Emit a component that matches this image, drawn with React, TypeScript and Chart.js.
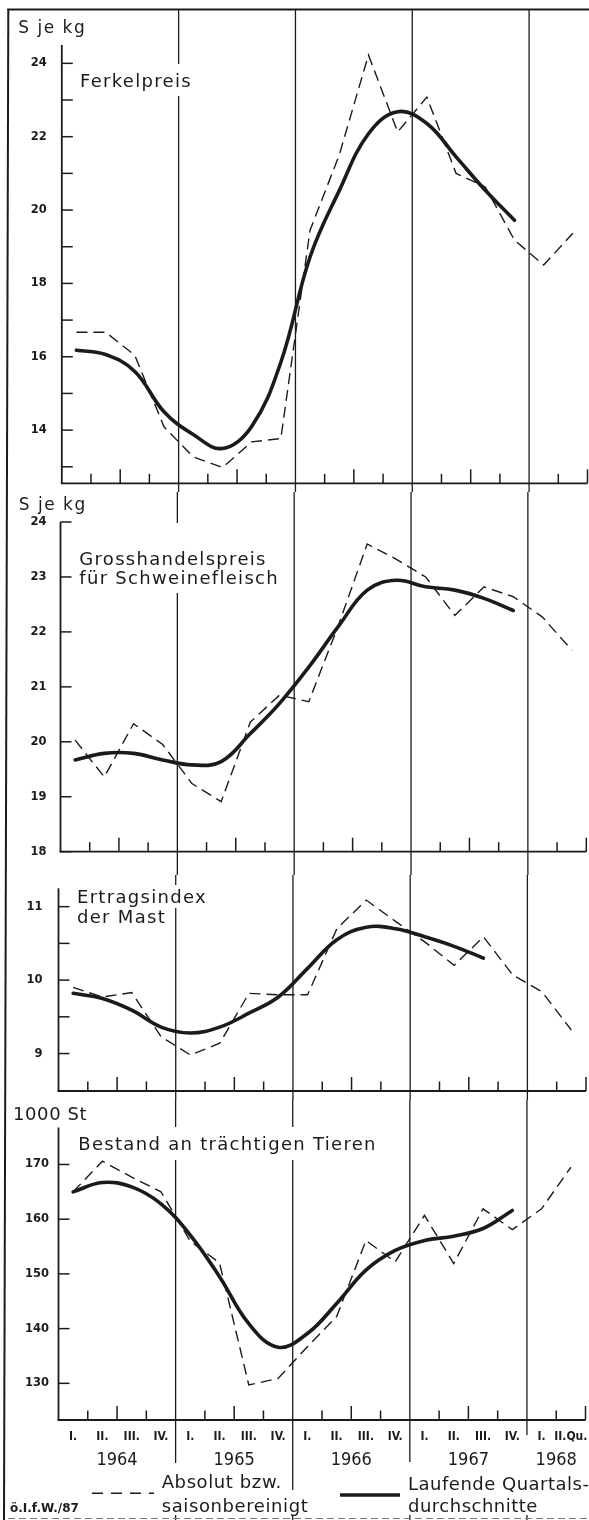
import React, { useEffect, useRef } from "react";
import { Chart, registerables } from "chart.js";

Chart.register(...registerables);

const INK = "#1b1b1b";
const SANS = '"DejaVu Sans", "Noto Sans", sans-serif';
const COND = '"DejaVu Sans Condensed", "Liberation Sans Narrow", "DejaVu Sans", sans-serif';

// ---- categories ----
const quarterLabels = [
  "I.", "II.", "III.", "IV.",
  "I.", "II.", "III.", "IV.",
  "I.", "II.", "III.", "IV.",
  "I.", "II.", "III.", "IV.",
  "I.", "II.Qu.",
];
const yearLabels = ["1964", "1965", "1966", "1967", "1968"];
const quartersPerYear = [4, 4, 4, 4, 2];

// ---- series (absolute / seasonally adjusted, and running quarterly averages) ----
const ferkelAbsolut = [16.67, 16.67, 16.04, 14.09, 13.27, 12.98, 13.68, 13.77, 19.45, 21.5, 24.23, 22.13, 23.08, 21.0, 20.63, 19.18, 18.5, 19.37];
const ferkelDurchschnitt = [16.18, 16.06, 15.6, 14.5, 13.88, 13.5, 14.1, 15.85, 18.72, 20.53, 22.08, 22.68, 22.36, 21.45, 20.54, 19.72, null, null];

const grossAbsolut = [20.03, 19.36, 20.33, 19.95, 19.24, 18.91, 20.36, 20.85, 20.73, 22.1, 23.6, 23.32, 23.0, 22.3, 22.82, 22.64, 22.27, 21.67];
const grossDurchschnitt = [19.67, 19.79, 19.79, 19.67, 19.58, 19.64, 20.15, 20.7, 21.36, 22.09, 22.76, 22.94, 22.82, 22.76, 22.61, 22.39, null, null];

const ertragAbsolut = [9.9, 9.77, 9.83, 9.23, 8.98, 9.14, 9.82, 9.8, 9.8, 10.7, 11.09, 10.8, 10.52, 10.2, 10.59, 10.07, 9.84, 9.32];
const ertragDurchschnitt = [9.82, 9.75, 9.59, 9.36, 9.28, 9.36, 9.55, 9.77, 10.16, 10.55, 10.72, 10.7, 10.59, 10.46, 10.3, null, null, null];

const bestandAbsolut = [165.0, 170.6, 167.7, 165.0, 156.0, 152.0, 129.7, 130.9, 136.7, 142.2, 156.1, 152.2, 160.7, 151.9, 161.9, 158.1, 161.9, 169.5];
const bestandDurchschnitt = [165.0, 166.7, 165.9, 162.8, 157.1, 149.5, 140.9, 136.6, 139.1, 144.6, 150.7, 154.3, 156.1, 156.9, 158.3, 161.6, null, null];

// ---- tick values and labelled ticks ----
const ferkelTicks = [13, 14, 15, 16, 17, 18, 19, 20, 21, 22, 23, 24];
const ferkelTickLabels = [14, 16, 18, 20, 22, 24];
const grossTicks = [18, 19, 20, 21, 22, 23, 24];
const grossTickLabels = [18, 19, 20, 21, 22, 23, 24];
const ertragTicks = [9, 9.5, 10, 10.5, 11];
const ertragTickLabels = [9, 10, 11];
const bestandTicks = [130, 140, 150, 160, 170];
const bestandTickLabels = [130, 140, 150, 160, 170];

// ---- text ----
const legendDashed = ["Absolut bzw.", "saisonbereinigt"];
const legendSolid = ["Laufende Quartals-", "durchschnitte"];
const sourceNote = "ö.I.f.W./87";

// derived quarter positions
const yearStarts: number[] = [];
quartersPerYear.reduce((acc, n) => { yearStarts.push(acc); return acc + n; }, 0);
const totalQuarters = quarterLabels.length;
const yearBounds = yearStarts.slice(1);
const yearCenters = yearStarts.map((s, i) => s + quartersPerYear[i] / 2);

type Panel = {
  key: string; top: number; height: number;
  padTop: number; padBottom: number; left: number; right: number;
  min: number; max: number;
  abs: (number | null)[]; avg: (number | null)[];
  ticks: number[]; tickLabels: number[]; labelPad: number;
  unit: { text: string; x: number; y: number; size: number; spacing: number };
  title: { lines: string[]; x: number; y: number; lh: number };
  gaps: number[][];
  lineTop: number; lineEnds: number[];
  bottomAxes: boolean;
};

const panels: Panel[] = [
  {
    key: "p1", top: 0, height: 492, padTop: 45, padBottom: 8.7, left: 61.8, right: 587.5,
    min: 12.55, max: 24.5, abs: ferkelAbsolut, avg: ferkelDurchschnitt,
    ticks: ferkelTicks, tickLabels: ferkelTickLabels, labelPad: 15,
    unit: { text: "S je kg", x: 18.3, y: 33.3, size: 17, spacing: 1.5 },
    title: { lines: ["Ferkelpreis"], x: 80, y: 87.3, lh: 19.5 },
    gaps: [[76, 64, 197, 96]],
    lineTop: 9, lineEnds: [492, 492, 492, 492], bottomAxes: false,
  },
  {
    key: "p2", top: 492, height: 383, padTop: 30, padBottom: 23.3, left: 60.5, right: 586.3,
    min: 18, max: 24, abs: grossAbsolut, avg: grossDurchschnitt,
    ticks: grossTicks, tickLabels: grossTickLabels, labelPad: 14,
    unit: { text: "S je kg", x: 18.8, y: 510, size: 17, spacing: 1.5 },
    title: { lines: ["Grosshandelspreis", "für Schweinefleisch"], x: 79.3, y: 565, lh: 19.3 },
    gaps: [[76, 523, 282, 593]],
    lineTop: 492, lineEnds: [875, 875, 875, 875], bottomAxes: false,
  },
  {
    key: "p3", top: 875, height: 225, padTop: 13.3, padBottom: 9, left: 58.5, right: 586,
    min: 8.49, max: 11.25, abs: ertragAbsolut, avg: ertragDurchschnitt,
    ticks: ertragTicks, tickLabels: ertragTickLabels, labelPad: 16,
    unit: { text: "", x: 0, y: 0, size: 17, spacing: 0 },
    title: { lines: ["Ertragsindex", "der Mast"], x: 77, y: 903.3, lh: 20 },
    gaps: [[74, 885, 210, 908]],
    lineTop: 875, lineEnds: [1100, 1100, 1100, 1100], bottomAxes: false,
  },
  {
    key: "p4", top: 1100, height: 420, padTop: 27.5, padBottom: 48, left: 58.5, right: 585.5,
    min: 123.3, max: 176.76, abs: bestandAbsolut, avg: bestandDurchschnitt,
    ticks: bestandTicks, tickLabels: bestandTickLabels, labelPad: 9.5,
    unit: { text: "1000 St", x: 13, y: 1120, size: 18, spacing: 0.6 },
    title: { lines: ["Bestand an trächtigen Tieren"], x: 78.3, y: 1150, lh: 20 },
    gaps: [[74, 1127, 378, 1160]],
    lineTop: 1100, lineEnds: [1463, 1490, 1462, 1435], bottomAxes: true,
  },
];

function seg(ctx: CanvasRenderingContext2D, x1: number, y1: number, x2: number, y2: number) {
  ctx.beginPath();
  ctx.moveTo(x1, y1);
  ctx.lineTo(x2, y2);
  ctx.stroke();
}

function txt(ctx: any, s: string, x: number, y: number, font: string, spacing: number) {
  ctx.font = font;
  ctx.letterSpacing = spacing + "px";
  ctx.textAlign = "left";
  ctx.textBaseline = "alphabetic";
  ctx.fillText(s, x, y);
  ctx.letterSpacing = "0px";
}

function zeroScalePadding(s: any) {
  s.paddingTop = 0;
  s.paddingBottom = 0;
  s.paddingLeft = 0;
  s.paddingRight = 0;
}

function decorPlugin(p: Panel) {
  return {
    id: "decor_" + p.key,
    beforeDatasetsDraw(chart: any) {
      const ctx: CanvasRenderingContext2D = chart.ctx;
      const xs = chart.scales.x;
      const ys = chart.scales.y;
      const a = chart.chartArea;
      const off = p.top;
      ctx.save();
      ctx.strokeStyle = INK;
      ctx.fillStyle = INK;
      ctx.lineCap = "butt";

      // outer frame (left edge, top edge)
      const fx = (gy: number) => 8.3 - (4.3 * (gy - 9)) / 1511;
      const g0 = Math.max(9, off);
      const g1 = off + p.height;
      ctx.lineWidth = 2;
      seg(ctx, fx(g0), g0 - off, fx(g1), g1 - off);
      if (p.key === "p1") seg(ctx, fx(9) - 1, 9.5, 589, 9.5);

      // year divider lines
      ctx.lineWidth = 1.3;
      yearBounds.forEach((b, i) => {
        const x = xs.getPixelForValue(b);
        seg(ctx, x, p.lineTop - off, x, p.lineEnds[i] - off);
        if (p.bottomAxes) seg(ctx, x, 1515 - off, x, 1520 - off);
      });

      // white gaps behind titles
      ctx.fillStyle = "#fff";
      p.gaps.forEach((g) => ctx.fillRect(g[0], g[1] - off, g[2] - g[0], g[3] - g[1]));
      ctx.fillStyle = INK;

      // unit & title
      if (p.unit.text) txt(ctx, p.unit.text, p.unit.x, p.unit.y - off, `${p.unit.size}px ${SANS}`, p.unit.spacing);
      p.title.lines.forEach((line, i) =>
        txt(ctx, line, p.title.x, p.title.y + i * p.title.lh - off, `18px ${SANS}`, 1.3)
      );

      // axis lines
      ctx.lineWidth = 1.8;
      seg(ctx, a.left, a.top, a.left, a.bottom);
      seg(ctx, a.left - 1, a.bottom, a.right, a.bottom);

      // inward y ticks
      ctx.lineWidth = 1.5;
      p.ticks.forEach((v) => {
        const y = ys.getPixelForValue(v);
        seg(ctx, a.left, y, a.left + 11, y);
      });

      // upward quarter ticks
      for (let b = 1; b <= totalQuarters; b++) {
        if (yearBounds.includes(b)) continue;
        const x = xs.getPixelForValue(b);
        const h = b % 4 === 2 || b === totalQuarters ? 14 : 9.5;
        seg(ctx, x, a.bottom, x, a.bottom - h);
      }

      if (p.bottomAxes) {
        // legend: dashed sample
        ctx.lineWidth = 1.5;
        ctx.setLineDash([11, 8]);
        seg(ctx, 92, 1493.3 - off, 154, 1493.3 - off);
        ctx.setLineDash([]);
        legendDashed.forEach((s, i) => txt(ctx, s, 161.7, 1488.3 + i * 23.2 - off, `18px ${SANS}`, 0.6));
        // legend: solid sample
        ctx.lineWidth = 3.6;
        seg(ctx, 340, 1495 - off, 400, 1495 - off);
        legendSolid.forEach((s, i) => txt(ctx, s, 408, 1489.5 + i * 22 - off, `18px ${SANS}`, 0.5));
        // source note
        txt(ctx, sourceNote, 10, 1511.5 - off, `bold 12px ${SANS}`, 0);
        // bottom edge
        ctx.strokeStyle = "#777";
        ctx.lineWidth = 1;
        ctx.setLineDash([7, 4]);
        seg(ctx, 8, 1518.5 - off, 589, 1518.5 - off);
        ctx.setLineDash([]);
      }
      ctx.restore();
    },
  };
}

function buildConfig(p: Panel): any {
  const absData = p.abs.map((v, i) => ({ x: i + 0.5, y: v }));
  const avgData = p.avg.map((v, i) => ({ x: i + 0.5, y: v }));
  const scales: any = {
    x: {
      type: "linear",
      min: 0,
      max: totalQuarters,
      position: "bottom",
      weight: 1,
      display: p.bottomAxes,
      grid: { display: false, drawTicks: false },
      border: { display: false },
      afterBuildTicks: (s: any) => { s.ticks = quarterLabels.map((_, i) => ({ value: i + 0.5 })); },
      afterFit: (s: any) => { s.height = p.bottomAxes ? 28 : 0; zeroScalePadding(s); },
      ticks: {
        autoSkip: false, maxRotation: 0, minRotation: 0, padding: 10.5, color: INK,
        font: { family: COND, size: 12, weight: "bold", lineHeight: 1 },
        callback: (_v: any, i: number) => quarterLabels[i],
      },
    },
    y: {
      type: "linear",
      min: p.min,
      max: p.max,
      position: "left",
      grid: { display: false, drawTicks: false },
      border: { display: false },
      afterBuildTicks: (s: any) => { s.ticks = p.ticks.map((v) => ({ value: v })); },
      afterFit: (s: any) => { s.width = p.left; zeroScalePadding(s); },
      ticks: {
        autoSkip: false, padding: p.labelPad, color: INK,
        font: { family: SANS, size: 11.5, weight: "bold", lineHeight: 1 },
        callback: (v: any) => (p.tickLabels.includes(v) ? String(v) : ""),
      },
    },
  };
  if (p.bottomAxes) {
    scales.x2 = {
      type: "linear",
      min: 0,
      max: totalQuarters,
      position: "bottom",
      weight: 2,
      grid: { display: false, drawTicks: false },
      border: { display: false },
      afterBuildTicks: (s: any) => { s.ticks = yearCenters.map((v) => ({ value: v })); },
      afterFit: (s: any) => { s.height = 24; zeroScalePadding(s); },
      ticks: {
        autoSkip: false, maxRotation: 0, minRotation: 0, padding: 3, color: INK,
        font: { family: COND, size: 18, lineHeight: 1 },
        callback: (_v: any, i: number) => yearLabels[i],
      },
    };
  }
  return {
    type: "line",
    data: {
      datasets: [
        {
          label: "Absolut bzw. saisonbereinigt",
          data: absData,
          borderColor: INK,
          borderWidth: 1.4,
          borderDash: [11, 6],
          pointRadius: 0,
          tension: 0,
          fill: false,
        },
        {
          label: "Laufende Quartalsdurchschnitte",
          data: avgData,
          borderColor: INK,
          borderWidth: 3.6,
          pointRadius: 0,
          tension: 0.4,
          fill: false,
          borderCapStyle: "round",
          borderJoinStyle: "round",
        },
      ],
    },
    options: {
      animation: false,
      responsive: false,
      maintainAspectRatio: false,
      devicePixelRatio: 1,
      events: [],
      layout: {
        autoPadding: false,
        padding: { left: 0, right: 589 - p.right, top: p.padTop, bottom: p.padBottom },
      },
      plugins: { legend: { display: false }, tooltip: { enabled: false }, title: { display: false } },
      scales,
    },
    plugins: [decorPlugin(p)],
  };
}

function PanelChart({ cfg }: { cfg: Panel }) {
  const ref = useRef<HTMLCanvasElement>(null);
  useEffect(() => {
    if (!ref.current) return;
    const chart = new Chart(ref.current, buildConfig(cfg));
    return () => chart.destroy();
  }, [cfg]);
  return (
    <canvas
      ref={ref}
      width={589}
      height={cfg.height}
      style={{ position: "absolute", left: 0, top: cfg.top, width: 589, height: cfg.height, display: "block" }}
    />
  );
}

export default function App() {
  return (
    <div
      style={{
        position: "absolute",
        left: 0,
        top: 0,
        width: 589,
        height: 1520,
        background: "#ffffff",
        overflow: "hidden",
      }}
    >
      {panels.map((p) => (
        <PanelChart key={p.key} cfg={p} />
      ))}
    </div>
  );
}
